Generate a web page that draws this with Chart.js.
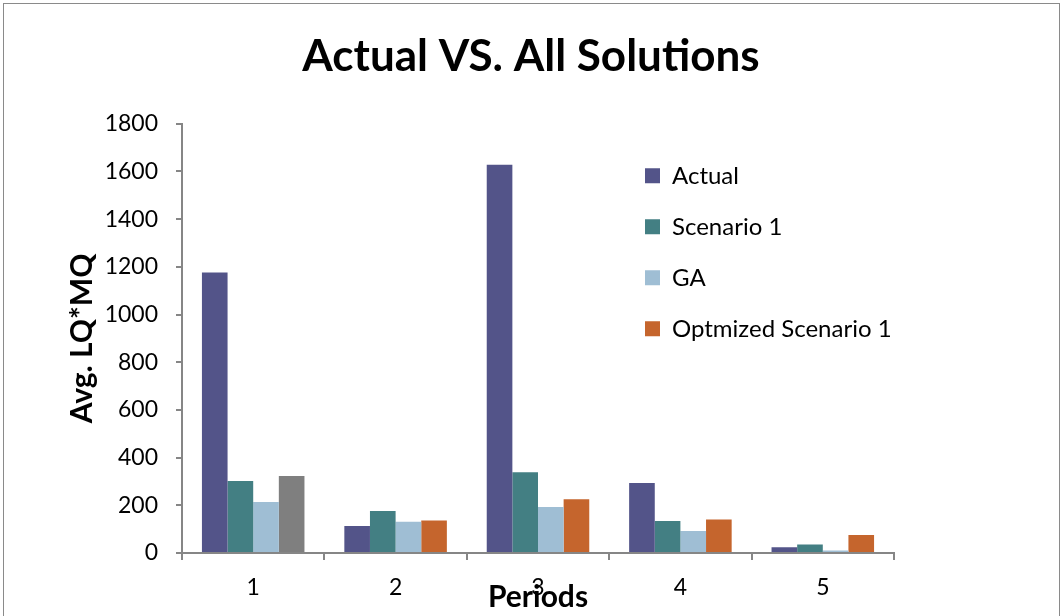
<!DOCTYPE html>
<html>
<head>
<meta charset="utf-8">
<script src="https://cdn.jsdelivr.net/npm/chart.js@4/dist/chart.umd.min.js"></script>
<style>
  html, body { margin: 0; padding: 0; background: #fff; }
  #wrap { position: relative; width: 1062px; height: 616px; overflow: hidden; }
  #frame { position: absolute; left: 3px; top: 3px; width: 1055px; height: 660px; border: 1px solid #8a8a8a; }
  canvas { position: absolute; left: 0; top: 0; }
</style>
</head>
<body>
<div id="wrap">
  <div id="frame"></div>
  <canvas id="chart" width="1062" height="616"></canvas>
</div>
<script>
// values
const periods = ['1', '2', '3', '4', '5'];
const actual = [1176, 113, 1628, 294, 24];
const scenario1 = [302, 176, 339, 134, 36];
const ga = [214, 131, 193, 92, 10];
const optScenario1 = [323, 136, 225, 140, 76];
const yTicks = [0, 200, 400, 600, 800, 1000, 1200, 1400, 1600, 1800];

const FONT = 'Lato, "Open Sans", sans-serif';
const ORANGE = '#C5652D';
const GREY = '#7F7F7F';

// legend sits inside the plot, on the right
const legendInside = {
    id: 'legendInside',
    afterLayout(chart) {
        const area = chart.chartArea;
        const lg = chart.legend;
        const pad = lg.options.labels.padding;
        lg.left = area.left + 463 - pad;
        lg.top = area.top + 40 - pad;
        lg.bottom = lg.top + 240;
    }
};

new Chart(document.getElementById('chart').getContext('2d'), {
    type: 'bar',
    data: {
        labels: periods,
        datasets: [
            { label: 'Actual', data: actual, backgroundColor: '#535489' },
            { label: 'Scenario 1', data: scenario1, backgroundColor: '#437F83' },
            { label: 'GA', data: ga, backgroundColor: '#9FBED4' },
            {
                label: 'Optmized Scenario 1',
                data: optScenario1,
                backgroundColor: function (ctx) {
                    return ctx.dataIndex === 0 ? GREY : ORANGE;
                }
            }
        ]
    },
    options: {
        responsive: false,
        animation: false,
        layout: { padding: 0 },
        datasets: {
            bar: { categoryPercentage: 0.72, barPercentage: 1.0 }
        },
        scales: {
            x: {
                afterFit: function (axis) { axis.height = 63; },
                grid: { drawOnChartArea: false, drawTicks: true, tickLength: 7, color: '#868686', lineWidth: 2, offset: true },
                border: { color: '#868686', width: 2 },
                ticks: { color: '#000', font: { family: FONT, size: 23 }, padding: 14 },
                title: {
                    display: true,
                    text: 'Periods',
                    color: '#000',
                    font: { family: FONT, size: 30, weight: 'bold' },
                    padding: { top: 0, bottom: 1 }
                }
            },
            y: {
                min: 0,
                max: 1800,
                afterFit: function (axis) { axis.width = 182; },
                afterBuildTicks: function (axis) {
                    axis.ticks = yTicks.map(v => ({ value: v }));
                },
                grid: { drawOnChartArea: false, drawTicks: true, tickLength: 6, color: '#868686', lineWidth: 2 },
                border: { color: '#868686', width: 2 },
                ticks: {
                    color: '#000',
                    font: { family: FONT, size: 23 },
                    padding: 18,
                    callback: function (value) { return String(value); }
                },
                title: {
                    display: true,
                    text: 'Avg. LQ*MQ',
                    color: '#000',
                    font: { family: FONT, size: 30, weight: 'bold' },
                    padding: { top: 64, bottom: 0 }
                }
            },
            // empty right-hand space, so the title stays centred on the page
            spacer: {
                type: 'linear',
                position: 'right',
                afterFit: function (axis) { axis.width = 168; },
                grid: { display: false },
                border: { display: false },
                ticks: { display: false }
            }
        },
        plugins: {
            title: {
                display: true,
                text: 'Actual VS. All Solutions',
                color: '#000',
                font: { family: FONT, size: 44, weight: 'bold' },
                padding: { top: 30, bottom: 41 }
            },
            legend: {
                position: 'chartArea',
                align: 'start',
                labels: {
                    color: '#000',
                    font: { family: FONT, size: 24 },
                    boxWidth: 15,
                    boxHeight: 15,
                    padding: 27,
                    generateLabels: function (chart) {
                        const items = Chart.defaults.plugins.legend.labels.generateLabels(chart);
                        items[3].fillStyle = ORANGE;
                        items[3].strokeStyle = ORANGE;
                        return items;
                    }
                }
            },
            tooltip: { enabled: false }
        }
    },
    plugins: [legendInside]
});
</script>
</body>
</html>
